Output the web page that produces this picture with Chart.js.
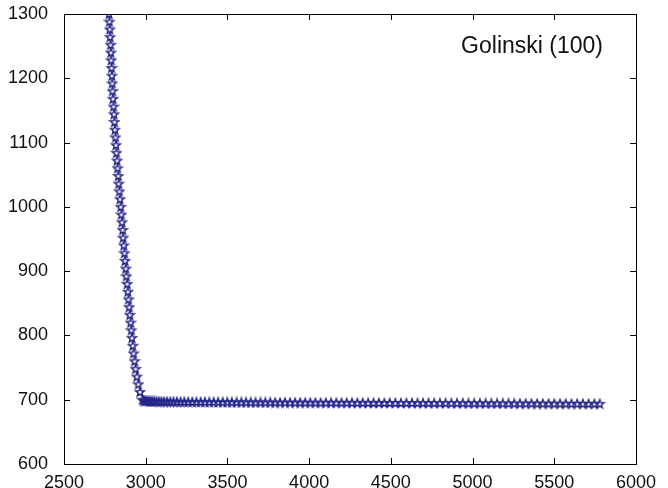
<!DOCTYPE html>
<html>
<head>
<meta charset="utf-8">
<script src="https://cdn.jsdelivr.net/npm/chart.js@4.4.0/dist/chart.umd.min.js"></script>
<style>
  body { margin: 0; background: #fff; }
  #chart { display: block; }
</style>
</head>
<body>
<canvas id="chart" width="668" height="488"></canvas>
<script>
// Pareto front: steep branch, then flat branch
const steepX = [
    2776, 2778, 2780, 2782, 2785, 2787, 2789, 2791, 2793, 2795,
    2797, 2800, 2803, 2806, 2809, 2812, 2815, 2818, 2821, 2825,
    2828, 2832, 2835, 2839, 2843, 2847, 2851, 2855, 2859, 2862,
    2866, 2870, 2874, 2878, 2882, 2887, 2891, 2895, 2899, 2903,
    2908, 2912, 2916, 2921, 2926, 2932, 2938, 2946, 2955, 2965,
    2980
];
const steepY = [
    1300, 1288, 1276, 1264, 1252, 1240, 1228, 1216, 1204, 1192,
    1180, 1168, 1156, 1144, 1132, 1120, 1108, 1096, 1084, 1072,
    1060, 1048, 1036, 1024, 1012, 1000, 988, 976, 964, 952,
    940, 928, 916, 904, 892, 880, 868, 856, 844, 832,
    820, 808, 796, 784, 772, 760, 748, 736, 724, 712,
    700
];
const flatX = [
    2988, 2996, 3005, 3015, 3026, 3038, 3051, 3065, 3080, 3096,
    3113, 3131, 3150, 3170, 3191, 3213, 3236, 3260, 3285, 3310,
    3336, 3362, 3389, 3416, 3443, 3471, 3499, 3527, 3556, 3585,
    3614, 3643, 3672, 3702, 3732, 3762, 3792, 3822, 3852, 3883,
    3914, 3945, 3976, 4007, 4038, 4070, 4102, 4134, 4166, 4198,
    4230, 4262, 4295, 4328, 4361, 4394, 4427, 4460, 4493, 4527,
    4561, 4595, 4629, 4663, 4697, 4731, 4765, 4800, 4835, 4870,
    4905, 4940, 4975, 5010, 5045, 5080, 5115, 5150, 5185, 5220,
    5255, 5290, 5325, 5360, 5395, 5430, 5465, 5500, 5535, 5570,
    5605, 5640, 5675, 5710, 5745, 5778
];
const flatY = [
    698.5, 698.2, 698.0, 697.8, 697.6, 697.5, 697.4, 697.3, 697.2, 697.1,
    697.0, 696.9, 696.8, 696.8, 696.7, 696.6, 696.6, 696.5, 696.5, 696.4,
    696.4, 696.3, 696.3, 696.2, 696.2, 696.1, 696.1, 696.0, 696.0, 695.9,
    695.9, 695.8, 695.8, 695.8, 695.7, 695.7, 695.6, 695.6, 695.6, 695.5,
    695.5, 695.5, 695.4, 695.4, 695.4, 695.3, 695.3, 695.3, 695.2, 695.2,
    695.2, 695.1, 695.1, 695.1, 695.0, 695.0, 695.0, 694.9, 694.9, 694.9,
    694.8, 694.8, 694.8, 694.7, 694.7, 694.7, 694.6, 694.6, 694.6, 694.5,
    694.5, 694.5, 694.4, 694.4, 694.4, 694.3, 694.3, 694.3, 694.2, 694.2,
    694.2, 694.1, 694.1, 694.1, 694.0, 694.0, 694.0, 693.9, 693.9, 693.9,
    693.8, 693.8, 693.8, 693.7, 693.7, 693.7
];
const xTicks = [2500, 3000, 3500, 4000, 4500, 5000, 5500, 6000];
const yTicks = [600, 700, 800, 900, 1000, 1100, 1200, 1300];
const seriesLabel = 'Golinski (100)';

const MARKER = '#25258a';
const FONT = '"Liberation Sans", Arial, Helvetica, sans-serif';

// pentagram outline like the matlab 'p' marker
function makeStar() {
    const c = document.createElement('canvas');
    c.width = 12; c.height = 12;
    const g = c.getContext('2d');
    const R = 4.6, r = 1.9, cx = 6, cy = 6.3;
    g.beginPath();
    for (let i = 0; i < 10; i++) {
        const rad = i % 2 === 0 ? R : r;
        const a = -Math.PI / 2 + i * Math.PI / 5;
        const px = cx + rad * Math.cos(a), py = cy + rad * Math.sin(a);
        i === 0 ? g.moveTo(px, py) : g.lineTo(px, py);
    }
    g.closePath();
    g.strokeStyle = MARKER;
    g.lineWidth = 1.4;
    g.stroke();
    return c;
}

const points = steepX.map((x, i) => ({ x, y: steepY[i] }))
    .concat(flatX.map((x, i) => ({ x, y: flatY[i] })));

// box + inward ticks on all four sides, plus the in-plot label
const matlabFrame = {
    id: 'matlabFrame',
    afterDraw(chart) {
        const { ctx, chartArea: a, scales } = chart;
        ctx.save();
        ctx.strokeStyle = '#000';
        ctx.lineWidth = 1;
        ctx.beginPath();
        xTicks.forEach(v => {
            const px = Math.round(scales.x.getPixelForValue(v)) + 0.5;
            ctx.moveTo(px, a.bottom); ctx.lineTo(px, a.bottom - 6);
            ctx.moveTo(px, a.top); ctx.lineTo(px, a.top + 6);
        });
        yTicks.forEach(v => {
            const py = Math.round(scales.y.getPixelForValue(v)) + 0.5;
            ctx.moveTo(a.left, py); ctx.lineTo(a.left + 6, py);
            ctx.moveTo(a.right, py); ctx.lineTo(a.right - 6, py);
        });
        ctx.stroke();
        ctx.strokeRect(Math.round(a.left) + 0.5, Math.round(a.top) + 0.5,
            Math.round(a.right - a.left), Math.round(a.bottom - a.top));

        ctx.fillStyle = '#111';
        ctx.font = '23px ' + FONT;
        ctx.textAlign = 'right';
        ctx.textBaseline = 'middle';
        ctx.fillText(seriesLabel, 603, 47);
        ctx.restore();
    }
};

new Chart(document.getElementById('chart'), {
    type: 'scatter',
    data: {
        datasets: [{
            label: seriesLabel,
            data: points,
            pointStyle: makeStar(),
            pointRadius: 5,
            showLine: false
        }]
    },
    options: {
        responsive: false,
        animation: false,
        layout: { padding: { left: 0, top: 14, right: 32, bottom: 0 } },
        plugins: { legend: { display: false }, tooltip: { enabled: false } },
        scales: {
            x: {
                type: 'linear', min: 2500, max: 6000,
                afterBuildTicks: s => { s.ticks = xTicks.map(v => ({ value: v })); },
                afterFit: s => { s.height = 24; s.paddingLeft = 0; s.paddingRight = 0; },
                grid: { display: false },
                border: { display: false },
                ticks: {
                    autoSkip: false, maxRotation: 0, padding: 0, color: '#111',
                    font: { family: FONT, size: 18 },
                    callback: v => String(v)
                }
            },
            y: {
                type: 'linear', min: 600, max: 1300,
                afterBuildTicks: s => { s.ticks = yTicks.map(v => ({ value: v })); },
                afterFit: s => { s.width = 64; s.paddingTop = 0; s.paddingBottom = 0; },
                grid: { display: false },
                border: { display: false },
                ticks: {
                    autoSkip: false, padding: 8, color: '#111',
                    font: { family: FONT, size: 18 },
                    callback: v => String(v)
                }
            }
        }
    },
    plugins: [matlabFrame]
});
</script>
</body>
</html>
